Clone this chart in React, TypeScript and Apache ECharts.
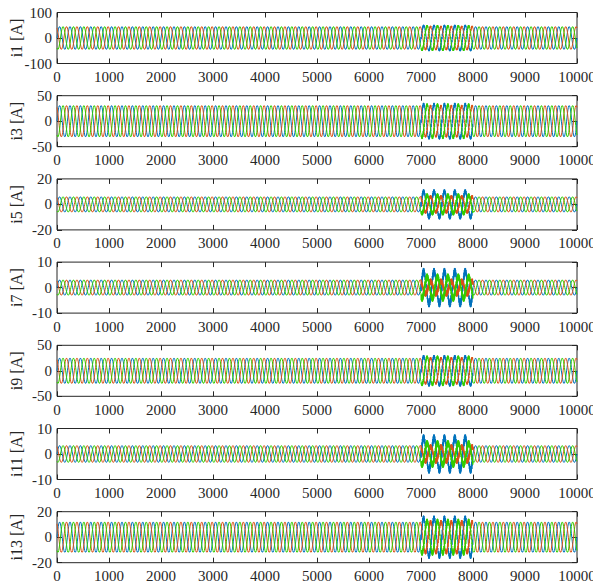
import React, { useEffect, useRef } from "react";
import * as echarts from "echarts";

// ---- data ----
const panelLabels = ["i1 [A]", "i3 [A]", "i5 [A]", "i7 [A]", "i9 [A]", "i11 [A]", "i13 [A]"];
const yLimits = [100, 50, 20, 10, 50, 10, 20];
const steadyAmp = [45, 31, 6, 3, 25, 3.3, 12];
const faultAmpBlue = [48, 33, 10, 6.3, 28, 6.3, 15];
const faultAmpRed = [45, 30, 6, 2.4, 25, 2.8, 12];
const faultAmpGreen = [47, 32, 7, 4.2, 27, 4.2, 12.5];
const faultRippleBlue = [4, 3, 1.8, 1.4, 3, 1.4, 2];
const faultRippleRed = [3, 2, 1.2, 1.1, 2, 1.0, 1.5];
const faultRippleGreen = [4, 3, 1.6, 1.3, 3, 1.2, 2];
const xTicks = [0, 1000, 2000, 3000, 4000, 5000, 6000, 7000, 8000, 9000, 10000];
// one cycle of the waveform, normalised, sampled at 24 points
const cycleShape = [
  0, 0.26, 0.5, 0.71, 0.87, 0.97, 1, 0.97, 0.87, 0.71, 0.5, 0.26,
  0, -0.26, -0.5, -0.71, -0.87, -0.97, -1, -0.97, -0.87, -0.71, -0.5, -0.26,
];
const totalCycles = 50;
const samplesPerCycle = 200;
const faultStart = 7000;
const faultEnd = 8000;
const phaseShift = [0, 8, 16]; // blue, red, green (points of cycleShape)
const phaseColors = ["#0072BD", "#D95319", "#33CC00"];

function buildWave(panel: number, phase: number): number[][] {
  const pts: number[][] = [];
  const n = cycleShape.length;
  const step = samplesPerCycle / n;
  const famp = [faultAmpBlue, faultAmpRed, faultAmpGreen][phase][panel];
  const frip = [faultRippleBlue, faultRippleRed, faultRippleGreen][phase][panel];
  for (let c = 0; c < totalCycles; c++) {
    for (let k = 0; k < n; k++) {
      const x = c * samplesPerCycle + k * step;
      const s = cycleShape[(k + phaseShift[phase]) % n];
      if (x >= faultStart && x < faultEnd) {
        // high-frequency ripple during the disturbance: the band swings both ways
        pts.push([x, famp * s + frip]);
        pts.push([x + step / 2, famp * s - frip]);
      } else {
        pts.push([x, steadyAmp[panel] * s]);
      }
    }
  }
  pts.push([xTicks[xTicks.length - 1], steadyAmp[panel] * cycleShape[phaseShift[phase] % n]]);
  return pts;
}

const FONT = "'Liberation Serif', 'Times New Roman', serif";
const TXT = "#262626";

export default function App() {
  const ref = useRef<HTMLDivElement>(null);
  useEffect(() => {
    if (!ref.current) return;
    const chart = echarts.init(ref.current, undefined, { renderer: "svg" });
    const grids: any[] = [];
    const xAxes: any[] = [];
    const yAxes: any[] = [];
    const series: any[] = [];
    panelLabels.forEach((label, i) => {
      grids.push({
        left: 57,
        right: 16,
        top: 12.5 + 83.2 * i,
        height: 51,
        show: true,
        borderColor: TXT,
        borderWidth: 1,
        backgroundColor: "transparent",
        containLabel: false,
        outerBoundsMode: "none",
      });
      const xBase = {
        type: "value",
        gridIndex: i,
        min: xTicks[0],
        max: xTicks[xTicks.length - 1],
        interval: xTicks[1] - xTicks[0],
        splitLine: { show: false },
        axisLine: { show: false, onZero: false },
        axisTick: { show: true, inside: true, length: 5, lineStyle: { color: TXT } },
      };
      xAxes.push({
        ...xBase,
        position: "bottom",
        axisLabel: {
          show: true,
          fontFamily: FONT,
          fontSize: 15,
          color: TXT,
          margin: 6,
          formatter: (v: number) => String(v),
        },
      });
      xAxes.push({ ...xBase, position: "top", axisLabel: { show: false } });
      const yBase = {
        type: "value",
        gridIndex: i,
        min: -yLimits[i],
        max: yLimits[i],
        interval: yLimits[i],
        splitLine: { show: false },
        axisLine: { show: false, onZero: false },
        axisTick: { show: true, inside: true, length: 5, lineStyle: { color: TXT } },
      };
      yAxes.push({
        ...yBase,
        position: "left",
        name: label,
        nameLocation: "middle",
        nameGap: 33,
        nameMoveOverlap: false,
        nameTextStyle: { fontFamily: FONT, fontSize: 16, color: TXT },
        axisLabel: {
          show: true,
          fontFamily: FONT,
          fontSize: 15,
          color: TXT,
          margin: 5,
          formatter: (v: number) => String(v),
        },
      });
      yAxes.push({ ...yBase, position: "right", axisLabel: { show: false } });
      for (let p = 0; p < 3; p++) {
        series.push({
          type: "line",
          xAxisIndex: i * 2,
          yAxisIndex: i * 2,
          data: buildWave(i, p),
          showSymbol: false,
          symbol: "none",
          silent: true,
          lineStyle: { color: phaseColors[p], width: 1 },
          z: 2 + p,
        });
      }
    });
    chart.setOption({
      animation: false,
      backgroundColor: "#ffffff",
      grid: grids,
      xAxis: xAxes,
      yAxis: yAxes,
      series,
    });
    return () => chart.dispose();
  }, []);
  return (
    <div
      ref={ref}
      style={{ position: "absolute", left: 0, top: 0, width: 593, height: 585 }}
    />
  );
}
